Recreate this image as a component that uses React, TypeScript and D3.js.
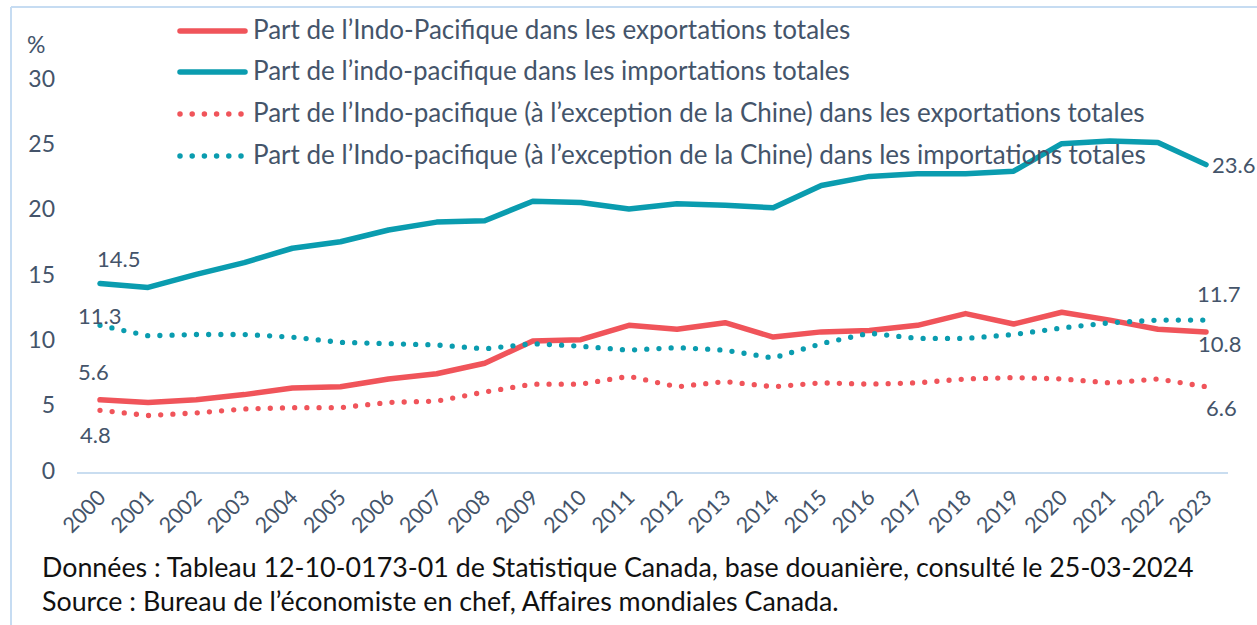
import React, { useEffect, useRef } from 'react';
import * as d3 from 'd3';

// Années et séries (en %)
const years = [2000, 2001, 2002, 2003, 2004, 2005, 2006, 2007, 2008, 2009, 2010, 2011,
  2012, 2013, 2014, 2015, 2016, 2017, 2018, 2019, 2020, 2021, 2022, 2023];

const exportsIP = [5.6, 5.4, 5.6, 6.0, 6.5, 6.6, 7.2, 7.6, 8.4, 10.1, 10.2, 11.3,
  11.0, 11.5, 10.4, 10.8, 10.9, 11.3, 12.2, 11.4, 12.3, 11.7, 11.0, 10.8];
const importsIP = [14.5, 14.2, 15.2, 16.1, 17.2, 17.7, 18.6, 19.2, 19.3, 20.8, 20.7, 20.2,
  20.6, 20.5, 20.3, 22.0, 22.7, 22.9, 22.9, 23.1, 25.2, 25.4, 25.3, 23.6];
const exportsExChina = [4.8, 4.4, 4.6, 4.9, 5.0, 5.0, 5.4, 5.5, 6.2, 6.8, 6.8, 7.4,
  6.6, 7.0, 6.6, 6.9, 6.8, 6.9, 7.2, 7.3, 7.2, 6.9, 7.2, 6.6];
const importsExChina = [11.3, 10.5, 10.6, 10.6, 10.4, 10.0, 9.9, 9.8, 9.5, 9.9, 9.7, 9.4,
  9.6, 9.4, 8.8, 9.9, 10.7, 10.3, 10.3, 10.6, 11.1, 11.5, 11.7, 11.7];

const yTicks = [0, 5, 10, 15, 20, 25, 30];

const legendLabels = [
  'Part de l\u2019Indo-Pacifique dans les exportations totales',
  'Part de l\u2019indo-pacifique dans les importations totales',
  'Part de l\u2019Indo-pacifique (\u00e0 l\u2019exception de la Chine) dans les exportations totales',
  'Part de l\u2019Indo-pacifique (\u00e0 l\u2019exception de la Chine) dans les importations totales',
];

const footerLines = [
  'Donn\u00e9es : Tableau 12-10-0173-01 de Statistique Canada, base douani\u00e8re, consult\u00e9 le 25-03-2024',
  'Source : Bureau de l\u2019\u00e9conomiste en chef, Affaires mondiales Canada.',
];

const RED = '#F0545A';
const TEAL = '#0A9CAF';
const TEXT = '#44546A';
const FONT = 'Lato, "Open Sans", sans-serif';

const App = () => {
  const svgRef = useRef<SVGSVGElement>(null);

  useEffect(() => {
    const svg = d3.select(svgRef.current);
    svg.selectAll('*').remove();

    const x = d3.scalePoint<number>().domain(years).range([100, 1206]);
    const y = d3.scaleLinear().domain([0, 30]).range([473, 81]);

    // cadre (bords gauche et haut)
    svg.append('line').attr('x1', 11).attr('x2', 11).attr('y1', 7).attr('y2', 625)
      .attr('stroke', '#C6DCF2').attr('stroke-width', 2);
    svg.append('line').attr('x1', 11).attr('x2', 1257).attr('y1', 7).attr('y2', 7)
      .attr('stroke', '#C6DCF2').attr('stroke-width', 2);

    // axe horizontal
    svg.append('line').attr('x1', 77).attr('x2', 1228).attr('y1', y(0)).attr('y2', y(0))
      .attr('stroke', '#C9DDF0').attr('stroke-width', 2);

    // graduations Y
    svg.selectAll('.ytick').data(yTicks).enter().append('text')
      .attr('x', 55).attr('y', d => y(d))
      .attr('text-anchor', 'end').attr('dominant-baseline', 'middle')
      .attr('fill', TEXT).attr('font-size', 23).attr('font-family', FONT)
      .text(d => d);
    svg.append('text').attr('x', 27).attr('y', 47).attr('dominant-baseline', 'middle')
      .attr('fill', TEXT).attr('font-size', 23).attr('font-family', FONT).text('%');

    // étiquettes X
    svg.selectAll('.xtick').data(years).enter().append('text')
      .attr('transform', d => `translate(${x(d)! + 7},${499}) rotate(-45)`)
      .attr('text-anchor', 'end')
      .attr('fill', TEXT).attr('font-size', 21.5).attr('font-family', FONT)
      .text(d => d);

    const line = d3.line<number>()
      .x((_, i) => x(years[i])!)
      .y(d => y(d));

    const series = [
      { values: exportsIP, color: RED, dotted: false },
      { values: importsIP, color: TEAL, dotted: false },
      { values: exportsExChina, color: RED, dotted: true },
      { values: importsExChina, color: TEAL, dotted: true },
    ];

    series.forEach(s => {
      svg.append('path').datum(s.values)
        .attr('d', line)
        .attr('fill', 'none')
        .attr('stroke', s.color)
        .attr('stroke-width', s.dotted ? 5.3 : 5.5)
        .attr('stroke-linecap', 'round')
        .attr('stroke-linejoin', 'round')
        .attr('stroke-dasharray', s.dotted ? '0 12.2' : null);
    });

    // légende
    const legendY = [31, 72, 114, 156];
    series.forEach((s, i) => {
      svg.append('line').attr('x1', 180).attr('x2', 245)
        .attr('y1', legendY[i]).attr('y2', legendY[i])
        .attr('stroke', s.color).attr('stroke-width', 5.5)
        .attr('stroke-linecap', 'round')
        .attr('stroke-dasharray', s.dotted ? '0 12.2' : null);
      svg.append('text').attr('x', 253).attr('y', legendY[i] + 1)
        .attr('dominant-baseline', 'middle')
        .attr('fill', TEXT).attr('font-size', 26).attr('font-family', FONT)
        .text(legendLabels[i]);
    });

    // étiquettes de données (première et dernière année)
    const first = years[0];
    const last = years[years.length - 1];
    const labels = [
      { year: first, v: importsIP[0], dx: -3, dy: -22 },
      { year: first, v: importsExChina[0], dx: -22, dy: -7 },
      { year: first, v: exportsIP[0], dx: -22, dy: -25 },
      { year: first, v: exportsExChina[0], dx: -20, dy: 27 },
      { year: last, v: importsIP[importsIP.length - 1], dx: 6, dy: 3 },
      { year: last, v: importsExChina[importsExChina.length - 1], dx: -9, dy: -24 },
      { year: last, v: exportsIP[exportsIP.length - 1], dx: -8, dy: 15 },
      { year: last, v: exportsExChina[exportsExChina.length - 1], dx: 0, dy: 24 },
    ];
    labels.forEach(l => {
      svg.append('text')
        .attr('x', x(l.year)! + l.dx).attr('y', y(l.v) + l.dy)
        .attr('dominant-baseline', 'middle')
        .attr('fill', TEXT).attr('font-size', 22).attr('font-family', FONT)
        .text(l.v.toFixed(1));
    });

    // sources
    footerLines.forEach((t, i) => {
      svg.append('text').attr('x', 42).attr('y', 570 + i * 34)
        .attr('dominant-baseline', 'middle')
        .attr('fill', '#111').attr('font-size', 26.8).attr('font-family', FONT)
        .text(t);
    });
  }, []);

  return (
    <div style={{ position: 'absolute', left: 0, top: 0 }}>
      <svg ref={svgRef} width={1257} height={625} style={{ display: 'block', background: '#fff' }} />
    </div>
  );
};

export default App;
